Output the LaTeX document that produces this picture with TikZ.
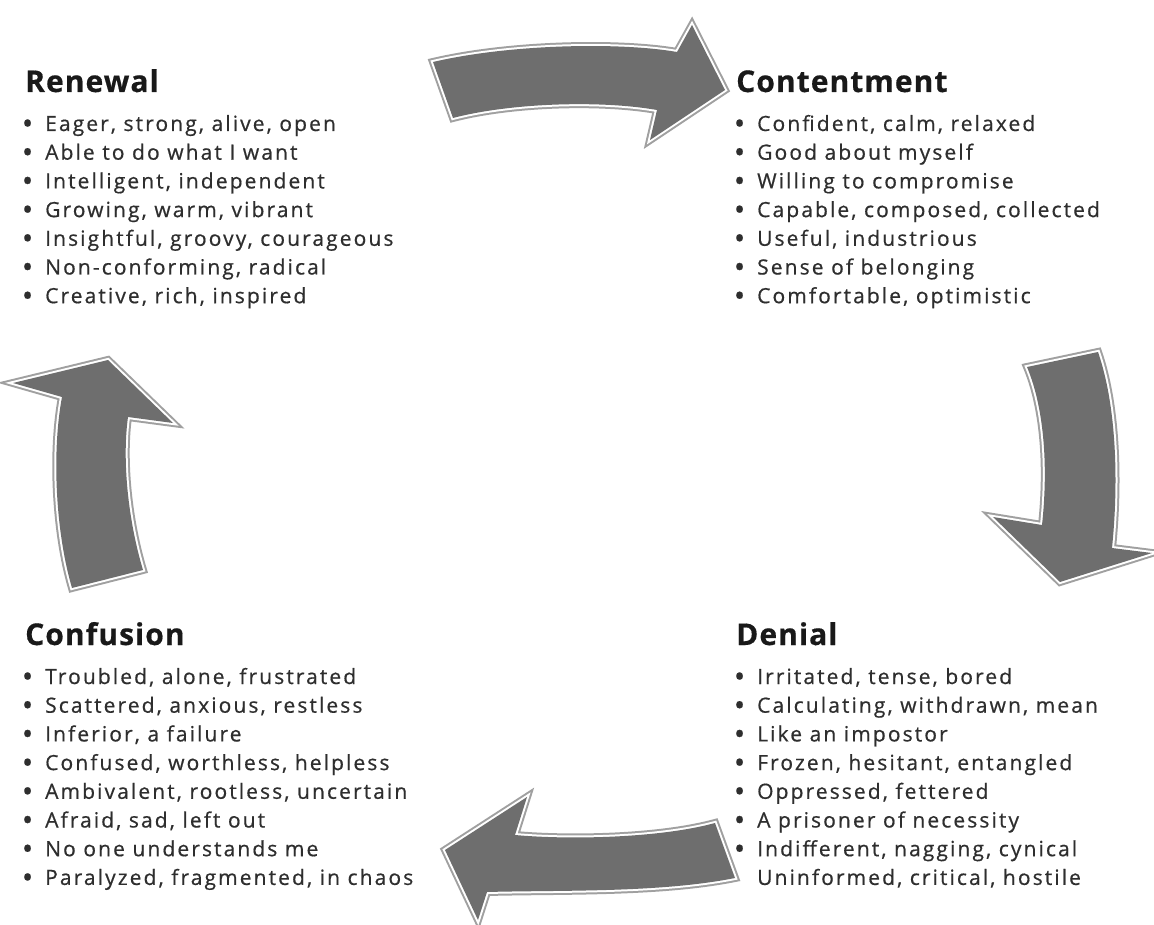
\documentclass[tikz,border=0pt]{standalone}
\usepackage{fontspec}
\setmainfont{Open Sans}
\newfontfamily\itemfont[LetterSpace=10,FakeBold=0.6]{Open Sans}
\newfontfamily\titlefont[LetterSpace=3.5,FakeBold=0.5]{Open Sans Bold}
\definecolor{arrowfill}{HTML}{6E6E6E}
\definecolor{arrowring}{HTML}{A0A0A0}
\definecolor{itemtext}{HTML}{2E2E2E}
\tikzset{
  title/.style={anchor=base west, inner sep=0pt, text=black!90,
    font=\titlefont\fontsize{30}{32}\selectfont},
  item/.style={anchor=base west, inner sep=0pt, text=itemtext,
    font=\itemfont\fontsize{21}{23}\selectfont},
  ringa/.style={draw=arrowring, line width=8pt, line join=miter},
  ringb/.style={draw=white, line width=4pt, line join=miter},
  body/.style={fill=arrowfill},
}
\newcommand\blockarrow[1]{%
  \path[ringa] #1;
  \path[ringb] #1;
  \path[body] #1;}
\newcommand\bul{\llap{\raisebox{-3pt}{\fontsize{30}{30}\selectfont\textbullet}\hspace{12pt}}}
\begin{document}
\begin{tikzpicture}[x=1pt,y=-1pt]
\useasboundingbox[fill=white] (0,0) rectangle (1154,925);

% arrows
\blockarrow{(433,62) .. controls (510,44) and (620,42) .. (677,52) -- (692,25) -- (725,90) -- (650,140) -- (657,110) .. controls (600,100) and (510,103) .. (453,118) -- cycle}
\blockarrow{(1027,367) -- (1098,352) .. controls (1118,410) and (1118,490) .. (1112,548) -- (1152,553) -- (1060,582) -- (993,517) -- (1042,525) .. controls (1048,470) and (1045,410) .. (1027,367) -- cycle}
\blockarrow{(72,588) .. controls (55,530) and (52,450) .. (62,397) -- (13,383) -- (108,360) -- (173,423) -- (128,417) .. controls (122,460) and (128,520) .. (143,570) -- cycle}
\blockarrow{(715,823) .. controls (660,838) and (570,840) .. (515,835) -- (527,797) -- (445,850) -- (478,920) -- (487,892) .. controls (560,890) and (660,893) .. (735,878) -- cycle}

% Renewal
\node[title] (ren) at (25,92) {Renewal};
\foreach \t [count=\i] in {{Eager, strong, alive, open},{Able to do what I want},{Intelligent, independent},{Growing, warm, vibrant},{Insightful, groovy, courageous},{Non-conforming, radical},{Creative, rich, inspired}}
  \node[item] (ren\i) at (45,{131+28.7*(\i-1)}) {\bul\t};

% Contentment
\node[title] (con) at (736,92) {Contentment};
\foreach \t [count=\i] in {{Confident, calm, relaxed},{Good about myself},{Willing to compromise},{Capable, composed, collected},{Useful, industrious},{Sense of belonging},{Comfortable, optimistic}}
  \node[item] (con\i) at (757,{131+28.7*(\i-1)}) {\bul\t};

% Confusion
\node[title] (cnf) at (25,645) {Confusion};
\foreach \t [count=\i] in {{Troubled, alone, frustrated},{Scattered, anxious, restless},{Inferior, a failure},{Confused, worthless, helpless},{Ambivalent, rootless, uncertain},{Afraid, sad, left out},{No one understands me},{Paralyzed, fragmented, in chaos}}
  \node[item] (cnf\i) at (45,{684+28.7*(\i-1)}) {\bul\t};

% Denial
\node[title] (den) at (736,645) {Denial};
\foreach \t [count=\i] in {{Irritated, tense, bored},{Calculating, withdrawn, mean},{Like an impostor},{Frozen, hesitant, entangled},{Oppressed, fettered},{A prisoner of necessity},{Indifferent, nagging, cynical}}
  \node[item] (den\i) at (757,{684+28.7*(\i-1)}) {\bul\t};
\node[item] (den8) at (757,{684+28.7*7}) {Uninformed, critical, hostile};
\end{tikzpicture}
\end{document}
